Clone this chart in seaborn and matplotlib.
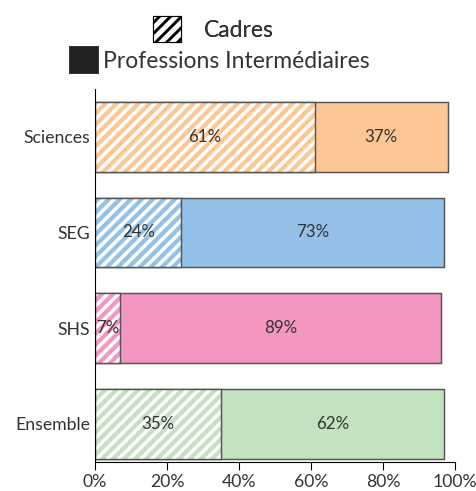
import matplotlib
matplotlib.use('Agg')
import matplotlib.pyplot as plt
import seaborn as sns
import pandas as pd
from matplotlib.patches import Patch

# data
categories = ['Sciences', 'SEG', 'SHS', 'Ensemble']
cadres = [61, 24, 7, 35]
prof_inter = [37, 73, 89, 62]
bar_colors = ['#FDC794', '#94C1E7', '#F396C1', '#C3E2BF']
x_ticks = [0, 20, 40, 60, 80, 100]

df = pd.DataFrame({'cat': categories, 'cadres': cadres, 'pi': prof_inter})
df['total'] = df['cadres'] + df['pi']

sns.set_theme(style='ticks')
plt.rcParams['font.family'] = ['Lato', 'DejaVu Sans']
plt.rcParams['hatch.linewidth'] = 2.3

DPI = 132
fig = plt.figure(figsize=(476 / DPI, 491 / DPI), dpi=DPI)
ax = fig.add_axes([0.1996, 0.0591, 0.7563, 0.7597])

edge = '#555555'
bw = 0.73

# full bar (Professions Intermédiaires colour), then hatched Cadres part on top
sns.barplot(data=df, x='total', y='cat', hue='cat', palette=bar_colors, width=bw,
            edgecolor=edge, linewidth=0.8, saturation=1, legend=False, ax=ax)
n = len(ax.patches)
sns.barplot(data=df, x='cadres', y='cat', color='white', width=bw, linewidth=0,
            saturation=1, ax=ax)
for p, c in zip(ax.patches[n:], bar_colors):
    p.set_facecolor('white')
    p.set_edgecolor(c)
    p.set_hatch('////')
    p.set_linewidth(0)
ax.barh(range(len(categories)), df['cadres'], height=bw, fill=False,
        edgecolor=edge, linewidth=0.8)

# value labels
for i, row in df.iterrows():
    ax.text(row['cadres'] / 2, i, f"{row['cadres']}%", ha='center', va='center',
            fontsize=9.2, color='#333333')
    ax.text(row['cadres'] + row['pi'] / 2, i, f"{row['pi']}%", ha='center',
            va='center', fontsize=9.2, color='#333333')

ax.set_xlim(0, 100)
ax.set_ylim(3.4, -0.5)
ax.set_xticks(x_ticks)
ax.set_xticklabels([f'{v}%' for v in x_ticks])
ax.set_xlabel('')
ax.set_ylabel('')
ax.tick_params(axis='x', length=4.4, width=0.6, labelsize=9.6, labelcolor='#333333',
               color='black', pad=2)
ax.tick_params(axis='y', length=0, labelsize=9.6, labelcolor='#333333', pad=2.7)
for s in ['top', 'right']:
    ax.spines[s].set_visible(False)
for s in ['left', 'bottom']:
    ax.spines[s].set_color('black')
    ax.spines[s].set_linewidth(0.6)

# legend, one entry per line as in the original
plt.rcParams['hatch.linewidth'] = 1.6
h1 = Patch(facecolor='white', edgecolor='black', hatch='////', linewidth=0.6)
h2 = Patch(facecolor='#222222', edgecolor='#222222')
leg1 = fig.legend([h1], ['Cadres'], loc='center left', bbox_to_anchor=(0.3214, 0.941),
                  frameon=False, fontsize=12.5, handlelength=1.22, handleheight=1.32,
                  handletextpad=1.0, borderpad=0, borderaxespad=0,
                  labelcolor='#333333')
leg2 = fig.legend([h2], ['Professions Intermédiaires'], loc='center left',
                  bbox_to_anchor=(0.147, 0.878), frameon=False, fontsize=12.5,
                  handlelength=1.22, handleheight=1.32, handletextpad=0.2,
                  borderpad=0, borderaxespad=0, labelcolor='#333333')
fig.add_artist(leg1)

fig.savefig('out.png', dpi=DPI)
